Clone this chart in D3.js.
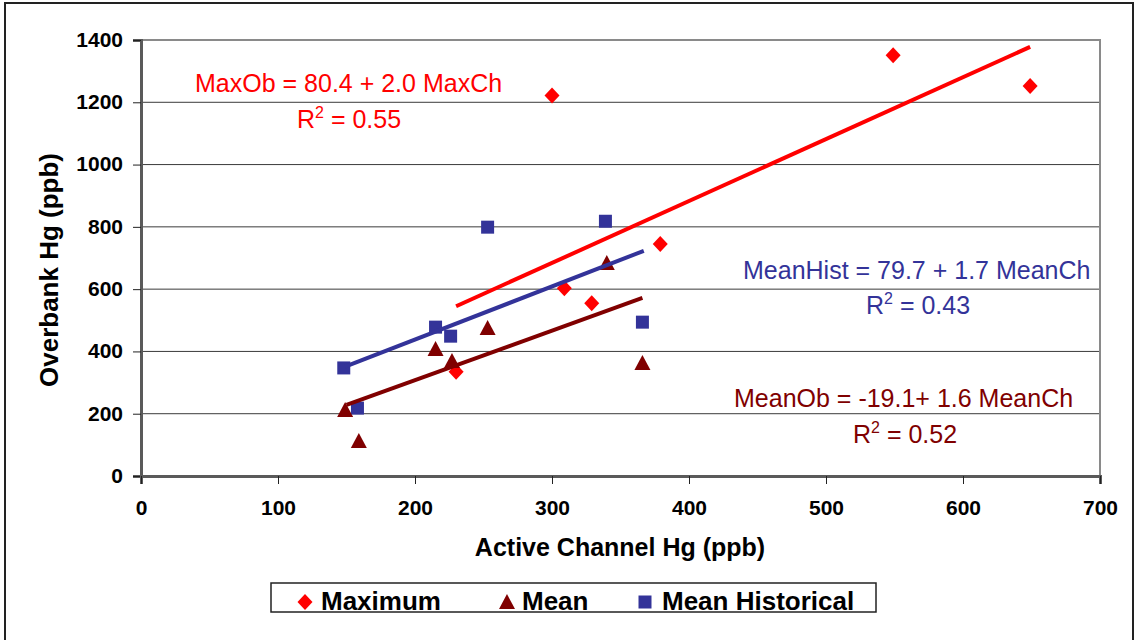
<!DOCTYPE html>
<html>
<head>
<meta charset="utf-8">
<script src="https://cdn.jsdelivr.net/npm/d3@7"></script>
<style>
  body { margin: 0; background: #fff; }
  text { font-family: "Liberation Sans", Arial, sans-serif; }
</style>
</head>
<body>
<script>
// values
const maximum = [[230, 335], [300, 1222], [309, 603], [329, 555], [379, 745], [549, 1351], [649, 1252]];
const mean = [[149, 212], [159, 112], [215, 408], [227, 369], [253, 475], [340, 684], [366, 363]];
const meanHist = [[148, 347], [158, 218], [215, 478], [226, 449], [253, 799], [339, 818], [366, 494]];

// trendline endpoints
const maxTrend = [[230, 545], [649, 1378]];
const meanTrend = [[150, 228], [366, 572]];
const histTrend = [[149, 351], [367, 723]];

const xTicks = [0, 100, 200, 300, 400, 500, 600, 700];
const yTicks = [0, 200, 400, 600, 800, 1000, 1200, 1400];

const legendNames = ["Maximum", "Mean", "Mean Historical"];

const RED = "#ff0000", DARKRED = "#800000", BLUE = "#333399";

const width = 1136, height = 640;

const svg = d3.select("body").append("svg")
  .attr("width", width)
  .attr("height", height);

// outer frame
svg.append("rect")
  .attr("x", 5).attr("y", 3)
  .attr("width", 1128).attr("height", 650)
  .attr("fill", "#fff")
  .attr("stroke", "#222")
  .attr("stroke-width", 2);

const x = d3.scaleLinear().domain([0, 700]).range([141, 1100]);
const y = d3.scaleLinear().domain([0, 1400]).range([476, 40]);

// gridlines
svg.append("g")
  .selectAll("line")
  .data(yTicks.filter(d => d > 0 && d < 1400))
  .enter().append("line")
  .attr("x1", x(0)).attr("x2", x(700))
  .attr("y1", d => y(d)).attr("y2", d => y(d))
  .attr("stroke", "#3a3a3a")
  .attr("stroke-width", 1);

// plot area border
svg.append("rect")
  .attr("x", x(0)).attr("y", y(1400))
  .attr("width", x(700) - x(0)).attr("height", y(0) - y(1400))
  .attr("fill", "none")
  .attr("stroke", "#8a8a8a")
  .attr("stroke-width", 2);

// axes
const yAxis = svg.append("g")
  .attr("transform", "translate(" + x(0) + ",0)")
  .call(d3.axisLeft(y).tickValues(yTicks).tickFormat(d3.format("d")).tickSize(8).tickPadding(10));
const xAxis = svg.append("g")
  .attr("transform", "translate(0," + y(0) + ")")
  .call(d3.axisBottom(x).tickValues(xTicks).tickFormat(d3.format("d")).tickSize(8).tickPadding(16));

[yAxis, xAxis].forEach(function (a) {
  a.select(".domain").attr("stroke", "#5a5a5a").attr("stroke-width", 3);
  a.selectAll(".tick line").attr("stroke", "#222").attr("stroke-width", 1);
  a.selectAll(".tick text")
    .attr("fill", "#000")
    .style("font-size", "21px")
    .style("font-weight", "bold")
    .style("font-family", "'Liberation Sans', Arial, sans-serif");
});
yAxis.selectAll(".tick text").attr("dy", "0.3em");
xAxis.selectAll(".tick text").attr("dy", "0.71em");

// axis titles
svg.append("text")
  .attr("x", 620).attr("y", 556)
  .attr("text-anchor", "middle")
  .style("font-size", "25px")
  .style("font-weight", "bold")
  .text("Active Channel Hg (ppb)");

svg.append("text")
  .attr("transform", "translate(58,270) rotate(-90)")
  .attr("text-anchor", "middle")
  .style("font-size", "26px")
  .style("font-weight", "bold")
  .text("Overbank Hg (ppb)");

// marker shapes
const diamond = "M0,-8L7.5,0L0,8L-7.5,0Z";
const triangle = "M0,-8L8,7L-8,7Z";
const square = "M-6.5,-6.5H6.5V6.5H-6.5Z";

function drawPoints(data, shape, color) {
  svg.append("g")
    .selectAll("path")
    .data(data)
    .enter().append("path")
    .attr("d", shape)
    .attr("transform", d => "translate(" + x(d[0]) + "," + y(d[1]) + ")")
    .attr("fill", color);
}

drawPoints(meanHist, square, BLUE);
drawPoints(maximum, diamond, RED);
drawPoints(mean, triangle, DARKRED);

// trendlines
const line = d3.line().x(d => x(d[0])).y(d => y(d[1]));
[[maxTrend, RED], [histTrend, BLUE], [meanTrend, DARKRED]].forEach(function (t) {
  svg.append("path")
    .attr("d", line(t[0]))
    .attr("fill", "none")
    .attr("stroke", t[1])
    .attr("stroke-width", 4);
});

// equations
function equation(px, py, color, txt) {
  svg.append("text")
    .attr("x", px).attr("y", py)
    .attr("fill", color)
    .style("font-size", "25px")
    .text(txt);
}
function rsq(px, py, color, val) {
  const t = svg.append("text")
    .attr("x", px).attr("y", py)
    .attr("fill", color)
    .style("font-size", "25px");
  t.append("tspan").text("R");
  t.append("tspan").attr("dy", -10).style("font-size", "16px").text("2");
  t.append("tspan").attr("dy", 10).text(" = " + val);
}

equation(195, 92, RED, "MaxOb = 80.4 + 2.0 MaxCh");
rsq(297, 128, RED, "0.55");
equation(743, 279, BLUE, "MeanHist = 79.7 + 1.7 MeanCh");
rsq(866, 314, BLUE, "0.43");
equation(734, 407, DARKRED, "MeanOb = -19.1+ 1.6 MeanCh");
rsq(853, 443, DARKRED, "0.52");

// legend
const legend = svg.append("g");
legend.append("rect")
  .attr("x", 271).attr("y", 583)
  .attr("width", 605).attr("height", 29)
  .attr("fill", "#fff")
  .attr("stroke", "#222")
  .attr("stroke-width", 1.5);

const legendItems = [
  { name: legendNames[0], shape: diamond, color: RED, mx: 305, tx: 321 },
  { name: legendNames[1], shape: triangle, color: DARKRED, mx: 507, tx: 522 },
  { name: legendNames[2], shape: square, color: BLUE, mx: 645, tx: 662 }
];
legendItems.forEach(function (d) {
  legend.append("path")
    .attr("d", d.shape)
    .attr("transform", "translate(" + d.mx + ",602)")
    .attr("fill", d.color);
  legend.append("text")
    .attr("x", d.tx).attr("y", 610)
    .style("font-size", "26px")
    .style("font-weight", "bold")
    .text(d.name);
});
</script>
</body>
</html>
